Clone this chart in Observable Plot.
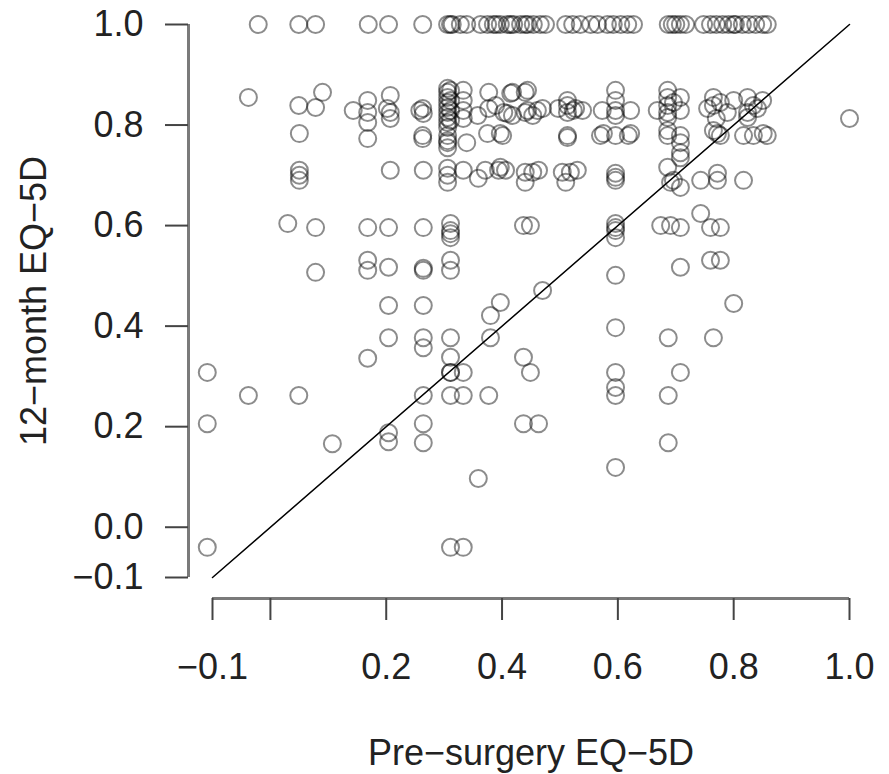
<!DOCTYPE html>
<html>
<head>
<meta charset="utf-8">
<script src="https://cdn.jsdelivr.net/npm/d3@7"></script>
<script src="https://cdn.jsdelivr.net/npm/@observablehq/plot@0.6"></script>
<style>
  html, body { margin: 0; padding: 0; background: #fff; }
  #chart { width: 889px; height: 774px; }
</style>
</head>
<body>
<div id="chart"></div>
<script>
// Axis ticks
const xTicks = [-0.1, 0.0, 0.2, 0.4, 0.6, 0.8, 1.0];
const yTicks = [-0.1, 0.0, 0.2, 0.4, 0.6, 0.8, 1.0];
const xTitle = "Pre\u2212surgery EQ\u22125D";
const yTitle = "12\u2212month EQ\u22125D";

// Reference line y = x
const identityLine = [-0.1, 1.0];

// Patients with 12-month EQ-5D = 1.0 (pre-surgery values)
const fullHealthPre = [-0.021, 0.049, 0.078, 0.169, 0.204, 0.263, 0.306, 0.311, 0.314, 0.328, 0.339,
  0.363, 0.375, 0.385, 0.39, 0.397, 0.409, 0.415, 0.420, 0.432, 0.44, 0.444, 0.454, 0.466, 0.475,
  0.510, 0.522, 0.535, 0.553, 0.565, 0.582, 0.592, 0.605, 0.617, 0.627,
  0.687, 0.694, 0.70, 0.708, 0.717, 0.748, 0.760, 0.770, 0.781, 0.791, 0.80, 0.803, 0.815, 0.826,
  0.838, 0.850, 0.858];

// [pre-surgery, 12-month] pairs, 12-month roughly 0.80 - 0.87
const upperBand = [[-0.038,0.855],[0.049,0.839],[0.078,0.835],[0.090,0.865],
  [0.143,0.829],[0.168,0.849],[0.168,0.825],[0.168,0.805],
  [0.207,0.859],[0.202,0.833],[0.207,0.825],[0.207,0.813],
  [0.263,0.833],[0.264,0.823],[0.258,0.829],
  [0.306,0.873],[0.306,0.865],[0.306,0.855],[0.306,0.845],[0.306,0.835],[0.306,0.825],[0.306,0.815],
  [0.306,0.805],[0.306,0.795],[0.311,0.869],[0.311,0.849],[0.311,0.829],[0.311,0.809],
  [0.333,0.869],[0.333,0.849],[0.333,0.829],[0.333,0.813],
  [0.358,0.819],[0.377,0.865],[0.377,0.833],[0.389,0.839],[0.403,0.825],[0.409,0.823],[0.415,0.863],
  [0.418,0.865],[0.418,0.819],[0.440,0.865],[0.440,0.825],[0.444,0.869],[0.444,0.829],[0.453,0.819],
  [0.461,0.829],[0.470,0.833],
  [0.497,0.833],[0.513,0.849],[0.513,0.839],[0.513,0.825],[0.523,0.829],[0.527,0.833],[0.539,0.829],
  [0.573,0.829],[0.596,0.869],[0.596,0.849],[0.596,0.829],[0.596,0.819],[0.622,0.829],
  [0.668,0.829],[0.686,0.869],[0.686,0.855],[0.686,0.839],[0.686,0.825],[0.686,0.815],[0.696,0.845],
  [0.708,0.855],[0.708,0.829],
  [0.755,0.833],[0.765,0.855],[0.765,0.839],[0.770,0.813],[0.777,0.845],[0.789,0.825],[0.800,0.849],
  [0.824,0.855],[0.824,0.825],[0.824,0.815],[0.834,0.839],[0.841,0.833],[0.850,0.849],
  [1.0,0.813]];

// 12-month roughly 0.73 - 0.79
const midUpperBand = [[0.050,0.783],[0.168,0.773],[0.263,0.779],[0.263,0.773],[0.306,0.779],[0.306,0.769],
  [0.306,0.765],[0.306,0.755],[0.339,0.765],[0.375,0.783],[0.397,0.783],[0.401,0.779],[0.513,0.779],
  [0.513,0.775],[0.570,0.779],[0.575,0.783],[0.596,0.779],[0.618,0.779],[0.622,0.783],[0.686,0.789],
  [0.686,0.779],[0.708,0.779],[0.708,0.765],[0.708,0.745],[0.708,0.735],[0.765,0.789],[0.772,0.783],
  [0.777,0.779],[0.817,0.779],[0.834,0.779],[0.851,0.783],[0.858,0.779]];

// 12-month roughly 0.68 - 0.72
const midBand = [[0.050,0.710],[0.050,0.700],[0.050,0.690],[0.207,0.710],[0.264,0.710],[0.306,0.714],
  [0.306,0.700],[0.306,0.686],[0.333,0.710],[0.359,0.694],[0.371,0.710],[0.394,0.710],[0.397,0.716],
  [0.406,0.710],[0.440,0.706],[0.440,0.686],[0.453,0.706],[0.463,0.710],[0.504,0.706],[0.510,0.686],
  [0.518,0.706],[0.530,0.710],[0.596,0.704],[0.596,0.696],[0.596,0.690],[0.686,0.716],[0.691,0.686],
  [0.696,0.690],[0.708,0.676],[0.743,0.690],[0.772,0.704],[0.772,0.690],[0.817,0.690]];

// 12-month roughly 0.50 - 0.62
const lowerMidBand = [[0.030,0.604],[0.078,0.596],[0.168,0.596],[0.204,0.596],[0.264,0.596],[0.311,0.604],
  [0.311,0.590],[0.311,0.584],[0.311,0.576],[0.437,0.600],[0.449,0.600],[0.596,0.604],[0.596,0.596],
  [0.596,0.590],[0.596,0.576],[0.674,0.600],[0.691,0.600],[0.708,0.596],[0.743,0.624],[0.760,0.596],
  [0.777,0.596],
  [0.078,0.507],[0.168,0.531],[0.168,0.511],[0.204,0.517],[0.264,0.511],[0.264,0.515],[0.311,0.531],
  [0.311,0.511],[0.596,0.501],[0.708,0.517],[0.760,0.531],[0.777,0.531]];

// 12-month below 0.5
const lowBand = [[0.204,0.441],[0.264,0.441],[0.397,0.447],[0.470,0.471],[0.800,0.445],[0.380,0.421],
  [0.204,0.377],[0.264,0.377],[0.264,0.357],[0.311,0.377],[0.380,0.377],[0.596,0.397],[0.687,0.377],
  [0.765,0.377],
  [0.168,0.336],[0.311,0.338],[0.311,0.308],[0.311,0.308],[0.333,0.308],[0.437,0.338],[0.449,0.308],
  [0.596,0.308],[0.596,0.278],[0.708,0.308],[-0.109,0.308],
  [-0.038,0.262],[0.049,0.262],[0.264,0.262],[0.311,0.262],[0.333,0.262],[0.377,0.262],[0.596,0.262],
  [0.687,0.262],
  [-0.109,0.206],[0.264,0.206],[0.437,0.206],[0.463,0.206],[0.204,0.188],[0.204,0.170],[0.107,0.166],
  [0.264,0.168],[0.687,0.168],[0.596,0.119],[0.359,0.097],[-0.109,-0.040],[0.311,-0.040],[0.333,-0.040]];

const points = [
  ...fullHealthPre.map(x => ({pre: x, post: 1.0})),
  ...[...upperBand, ...midUpperBand, ...midBand, ...lowerMidBand, ...lowBand].map(([a, b]) => ({pre: a, post: b}))
];

const fmt = d3.format(".1f");
const font = "'Liberation Sans', Arimo, Arial, sans-serif";

const chart = Plot.plot({
  width: 889,
  height: 774,
  marginLeft: 212,
  marginRight: 40,
  marginTop: 24,
  marginBottom: 197,
  x: {domain: [-0.1, 1.0], axis: null},
  y: {domain: [-0.1, 1.0], axis: null},
  style: {fontFamily: font, fontSize: "36px", background: "#fff", color: "#222"},
  marks: [
    // axis lines, offset from the data region like R's base graphics
    Plot.ruleX([yTicks[0]], {y1: yTicks[0], y2: yTicks[yTicks.length - 1], dx: -24, stroke: "#7a7a7a", strokeWidth: 3}),
    Plot.ruleY([xTicks[0]], {x1: xTicks[0], x2: xTicks[xTicks.length - 1], dy: 21, stroke: "#7a7a7a", strokeWidth: 3}),
    Plot.axisX({ticks: xTicks, tickSize: 22, tickPadding: 33, dy: 21, tickFormat: d => d === 0 ? "" : fmt(d),
      fontSize: 36, stroke: "#444", strokeWidth: 2, fill: "#222", label: null}),
    Plot.axisY({ticks: yTicks, tickSize: 23, tickPadding: 22, dx: -24, tickFormat: fmt,
      fontSize: 36, stroke: "#444", strokeWidth: 2, fill: "#222", label: null}),
    Plot.dot(points, {x: "pre", y: "post", r: 8.5, stroke: "#000", strokeOpacity: 0.45, strokeWidth: 2, fill: "none"}),
    Plot.line(identityLine.map(v => ({v})), {x: "v", y: "v", stroke: "#000", strokeWidth: 1.5}),
    Plot.text([xTitle], {frameAnchor: "bottom", dy: 176, textAnchor: "middle", lineAnchor: "middle", fontSize: 36, fill: "#222"}),
    Plot.text([yTitle], {frameAnchor: "left", dx: -178, rotate: -90, textAnchor: "middle", lineAnchor: "middle", fontSize: 36, fill: "#222"})
  ]
});
document.getElementById("chart").appendChild(chart);
</script>
</body>
</html>
